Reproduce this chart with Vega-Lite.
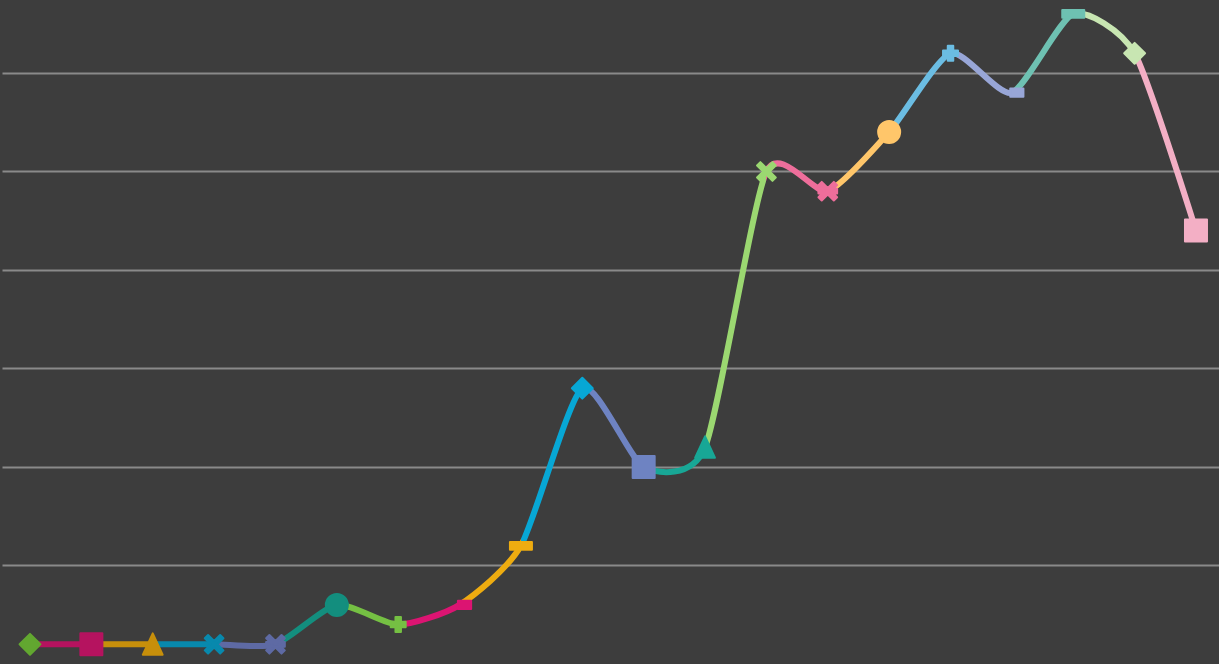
{
  "$schema": "https://vega.github.io/schema/vega-lite/v6.json",
  "width": 1219,
  "height": 664,
  "autosize": {"type": "fit", "contains": "padding"},
  "padding": {"left": 2, "top": 0, "right": 0, "bottom": 0},
  "background": "#3d3d3d",
  "config": {"view": {"stroke": null}},
  "data": {
    "values": [
      {"i": 1, "v": 20, "m": "diamond"},
      {"i": 2, "v": 20, "m": "square"},
      {"i": 3, "v": 20, "m": "triangle"},
      {"i": 4, "v": 20, "m": "x"},
      {"i": 5, "v": 20, "m": "star"},
      {"i": 6, "v": 60, "m": "circle"},
      {"i": 7, "v": 40, "m": "plus"},
      {"i": 8, "v": 60, "m": "dash"},
      {"i": 9, "v": 120, "m": "longdash"},
      {"i": 10, "v": 280, "m": "diamond"},
      {"i": 11, "v": 200, "m": "square"},
      {"i": 12, "v": 220, "m": "triangle"},
      {"i": 13, "v": 500, "m": "x"},
      {"i": 14, "v": 480, "m": "star"},
      {"i": 15, "v": 540, "m": "circle"},
      {"i": 16, "v": 620, "m": "plus"},
      {"i": 17, "v": 580, "m": "dash"},
      {"i": 18, "v": 660, "m": "longdash"},
      {"i": 19, "v": 620, "m": "diamond"},
      {"i": 20, "v": 440, "m": "square"}
    ]
  },
  "encoding": {
    "x": {"field": "i", "type": "quantitative", "scale": {"domain": [0.5437, 20.375], "nice": false, "zero": false}, "axis": null},
    "y": {
      "field": "v", "type": "quantitative",
      "scale": {"domain": [0, 674.1], "nice": false, "zero": false},
      "axis": {"values": [100, 200, 300, 400, 500, 600], "grid": true, "gridColor": "#8a8a8a", "gridWidth": 2, "gridOpacity": 1,
               "labels": false, "ticks": false, "domain": false, "title": null, "minExtent": 0, "maxExtent": 0}
    }
  },
  "layer": [
    {
      "mark": {
        "type": "line", "interpolate": "cardinal", "tension": 0.35, "strokeWidth": 6,
        "stroke": {
          "gradient": "linear", "x1": 0, "y1": 0, "x2": 1, "y2": 0,
          "stops": [
            {"offset": 0, "color": "#b5135f"}, {"offset": 0.05263, "color": "#b5135f"},
            {"offset": 0.05263, "color": "#c78f0b"}, {"offset": 0.10526, "color": "#c78f0b"},
            {"offset": 0.10526, "color": "#0889ad"}, {"offset": 0.15789, "color": "#0889ad"},
            {"offset": 0.15789, "color": "#5e6aa4"}, {"offset": 0.21053, "color": "#5e6aa4"},
            {"offset": 0.21053, "color": "#138e7e"}, {"offset": 0.26316, "color": "#138e7e"},
            {"offset": 0.26316, "color": "#75c043"}, {"offset": 0.31579, "color": "#75c043"},
            {"offset": 0.31579, "color": "#dc1472"}, {"offset": 0.36842, "color": "#dc1472"},
            {"offset": 0.36842, "color": "#eeac10"}, {"offset": 0.42105, "color": "#eeac10"},
            {"offset": 0.42105, "color": "#07a7d5"}, {"offset": 0.47368, "color": "#07a7d5"},
            {"offset": 0.47368, "color": "#6e83c2"}, {"offset": 0.52632, "color": "#6e83c2"},
            {"offset": 0.52632, "color": "#18a796"}, {"offset": 0.57895, "color": "#18a796"},
            {"offset": 0.57895, "color": "#9bd871"}, {"offset": 0.63158, "color": "#9bd871"},
            {"offset": 0.63158, "color": "#ee6e9b"}, {"offset": 0.68421, "color": "#ee6e9b"},
            {"offset": 0.68421, "color": "#ffc66a"}, {"offset": 0.73684, "color": "#ffc66a"},
            {"offset": 0.73684, "color": "#6bbde3"}, {"offset": 0.78947, "color": "#6bbde3"},
            {"offset": 0.78947, "color": "#98a6d7"}, {"offset": 0.84211, "color": "#98a6d7"},
            {"offset": 0.84211, "color": "#6ec1b2"}, {"offset": 0.89474, "color": "#6ec1b2"},
            {"offset": 0.89474, "color": "#c8e6b2"}, {"offset": 0.94737, "color": "#c8e6b2"},
            {"offset": 0.94737, "color": "#f3afc5"}, {"offset": 1, "color": "#f3afc5"}
          ]
        }
      }
    },
    {
      "mark": {"type": "point", "filled": true, "size": 484, "strokeWidth": 2, "strokeJoin": "round", "opacity": 1},
      "encoding": {
        "shape": {
          "field": "m", "type": "nominal", "legend": null,
          "scale": {
            "domain": ["diamond", "square", "triangle", "x", "star", "circle", "plus", "dash", "longdash"],
            "range": [
              "M0,-0.95L0.95,0L0,0.95L-0.95,0Z",
              "M-1,-1H1V1H-1Z",
              "M0,-1L0.9,0.95L-0.9,0.95Z",
              "M-0.85,-0.55L-0.55,-0.85L0,-0.3L0.55,-0.85L0.85,-0.55L0.3,0L0.85,0.55L0.55,0.85L0,0.3L-0.55,0.85L-0.85,0.55L-0.3,0Z",
              "M-0.85,-0.55L-0.55,-0.85L0,-0.3L0.55,-0.85L0.85,-0.55L0.3,0L0.85,0.55L0.55,0.85L0,0.3L-0.55,0.85L-0.85,0.55L-0.3,0ZM-0.85,-0.22H0.85V0.22H-0.85Z",
              "M-1,0A1,1,0,1,1,1,0A1,1,0,1,1,-1,0Z",
              "M-0.25,-0.68H0.25V-0.25H0.68V0.25H0.25V0.68H-0.25V0.25H-0.68V-0.25H-0.25Z",
              "M-0.15,-0.38H1.05V0.38H-0.15Z",
              "M-1,-0.35H1V0.35H-1Z"
            ]
          }
        },
        "fill": {
          "field": "i", "type": "nominal", "legend": null,
          "scale": {
            "domain": [1, 2, 3, 4, 5, 6, 7, 8, 9, 10, 11, 12, 13, 14, 15, 16, 17, 18, 19, 20],
            "range": ["#62a730", "#b5135f", "#c78f0b", "#0889ad", "#5e6aa4", "#138e7e", "#75c043", "#dc1472", "#eeac10", "#07a7d5",
                      "#6e83c2", "#18a796", "#9bd871", "#ee6e9b", "#ffc66a", "#6bbde3", "#98a6d7", "#6ec1b2", "#c8e6b2", "#f3afc5"]
          }
        },
        "stroke": {
          "field": "i", "type": "nominal", "legend": null,
          "scale": {
            "domain": [1, 2, 3, 4, 5, 6, 7, 8, 9, 10, 11, 12, 13, 14, 15, 16, 17, 18, 19, 20],
            "range": ["#62a730", "#b5135f", "#c78f0b", "#0889ad", "#5e6aa4", "#138e7e", "#75c043", "#dc1472", "#eeac10", "#07a7d5",
                      "#6e83c2", "#18a796", "#9bd871", "#ee6e9b", "#ffc66a", "#6bbde3", "#98a6d7", "#6ec1b2", "#c8e6b2", "#f3afc5"]
          }
        }
      }
    }
  ]
}
